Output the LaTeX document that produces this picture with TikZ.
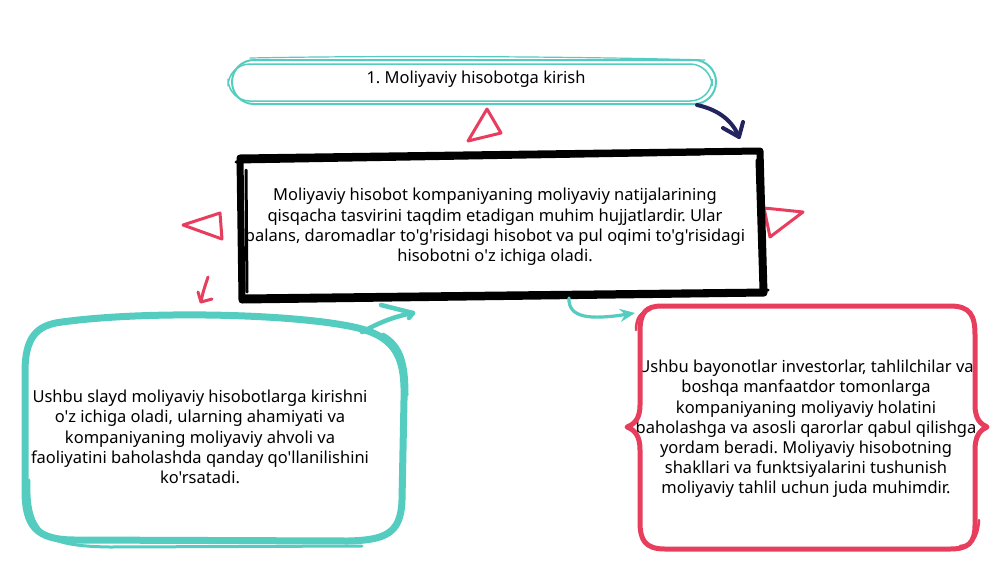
\documentclass[tikz,border=0pt]{standalone}
\usepackage{fontspec}
\setmainfont{Noto Sans}[Ligatures=TeXOff]
\usetikzlibrary{arrows.meta}
\definecolor{tealc}{RGB}{84,204,192}
\definecolor{redc}{RGB}{232,62,94}
\definecolor{navyc}{RGB}{35,35,95}
\tikzset{
  txt/.style={align=center,font=\fontsize{16.5}{20.2}\selectfont\frenchspacing,text=black,inner sep=0pt},
  pill/.style={draw=tealc,line width=2pt,rounded corners=22pt},
  blackbox/.style={draw=black,line width=7pt,line cap=round,line join=round},
  blackthin/.style={draw=black,line width=3pt,line cap=round},
  tealbox/.style={draw=tealc,line width=7pt,line cap=round,line join=round},
  tealthin/.style={draw=tealc,line width=3pt,line cap=round},
  redbox/.style={draw=redc,line width=5pt,line cap=round,line join=round},
  redtri/.style={draw=redc,line width=3pt,line join=round},
  tealarrow/.style={draw=tealc,line width=4.5pt,line cap=round,line join=round},
}
\begin{document}
\frenchspacing
\begin{tikzpicture}[x=1pt,y=-1pt]
\useasboundingbox (0,0) rectangle (1000,563);
\fill[white] (0,0) rectangle (1000,563);

% top pill
\draw[pill] (232,60) rectangle (716,104);
\draw[pill,line width=1.5pt] (228,64) rectangle (712,101);
\draw[tealc,line width=1.2pt,line cap=round] (250,58) .. controls (400,55) and (600,57) .. (705,60);
\node[txt] (title) at (476,79) {1. Moliyaviy hisobotga kirish};

% navy arrow
\coordinate (na) at (697,105);
\coordinate (nb) at (739,137);
\draw[navyc,line width=4pt,line cap=round] (na) .. controls (720,110) and (733,122) .. (nb);
\draw[navyc,line width=4pt,line cap=round,line join=round] (723,128) -- (nb) -- (743,122);

% red triangles
\draw[redtri] (487,109) -- (468,141) -- (501,133) -- cycle;
\draw[redtri] (183,225) -- (220,213) -- (222,239) -- cycle;
\draw[redtri] (764,208) -- (803,212) -- (770,237) -- cycle;

% center text and black box
\node[txt] (center) at (495,227) {Moliyaviy hisobot kompaniyaning moliyaviy natijalarining\\qisqacha tasvirini taqdim etadigan muhim hujjatlardir. Ular\\balans, daromadlar to'g'risidagi hisobot va pul oqimi to'g'risidagi\\hisobotni o'z ichiga oladi.};
\draw[blackbox] (240,158) -- (760,151) -- (764,293) -- (242,300) -- cycle;
\draw[blackthin] (236,162) -- (700,154);
\draw[blackthin] (246,170) -- (247,292);
\draw[blackthin] (244,296) -- (768,290);
\draw[blackthin] (757,160) -- (761,290);

% small red arrow
\coordinate (ra) at (208,277);
\coordinate (rb) at (201,302);
\draw[redc,line width=3pt,line cap=round] (ra) .. controls (205,286) and (202,295) .. (rb);
\draw[redc,line width=3pt,line cap=round,line join=round] (198,292) -- (rb) -- (212,299);

% teal left box
\node[txt] (left) at (200,437) {Ushbu slayd moliyaviy hisobotlarga kirishni\\o'z ichiga oladi, ularning ahamiyati va\\kompaniyaning moliyaviy ahvoli va\\faoliyatini baholashda qanday qo'llanilishini\\ko'rsatadi.};
\draw[tealbox] (62,322) .. controls (150,310) and (300,314) .. (358,328)
  .. controls (398,338) and (405,360) .. (404,400) -- (402,500)
  .. controls (401,534) and (385,540) .. (348,541) -- (75,540)
  .. controls (35,540) and (25,525) .. (25,490) -- (25,372)
  .. controls (25,338) and (36,325) .. (62,322);
\draw[tealthin] (29,480) .. controls (27,535) and (45,546) .. (110,547) -- (362,546);
\draw[tealthin] (383,334) .. controls (403,345) and (407,365) .. (407,395);

% teal arrow from left box
\coordinate (ta) at (362,332);
\coordinate (tb) at (413,313);
\draw[tealarrow] (ta) .. controls (380,322) and (396,316) .. (tb);
\draw[tealarrow] (381,305) -- (tb) -- (409,318);

% teal arrow to right box
\coordinate (sa) at (569,298);
\coordinate (sb) at (635,313);
\draw[tealc,line width=3.2pt,line cap=round,-{Stealth[length=15pt,width=13pt]}] (sa) .. controls (568,318) and (590,320) .. (sb);

% red right box
\node[txt] (right) at (806,429) {Ushbu bayonotlar investorlar, tahlilchilar va\\boshqa manfaatdor tomonlarga\\kompaniyaning moliyaviy holatini\\baholashga va asosli qarorlar qabul qilishga\\yordam beradi. Moliyaviy hisobotning\\shakllari va funktsiyalarini tushunish\\moliyaviy tahlil uchun juda muhimdir.};
\draw[redbox] (662,306) -- (950,306)
  .. controls (970,306) and (975,315) .. (975,335) -- (975,405)
  .. controls (975,418) and (980,424) .. (987,427)
  .. controls (980,430) and (975,436) .. (975,450) -- (975,525)
  .. controls (975,543) and (968,549) .. (950,549) -- (665,549)
  .. controls (645,549) and (640,540) .. (640,522) -- (640,450)
  .. controls (640,436) and (635,430) .. (627,427)
  .. controls (635,424) and (640,418) .. (640,405) -- (640,332)
  .. controls (640,312) and (646,306) .. (662,306);
\draw[redc,line width=2.5pt,line cap=round] (650,310) .. controls (640,312) and (636,318) .. (636,330);
\draw[redc,line width=2.5pt,line cap=round] (960,546) .. controls (972,545) and (978,538) .. (979,520);
\end{tikzpicture}
\end{document}
